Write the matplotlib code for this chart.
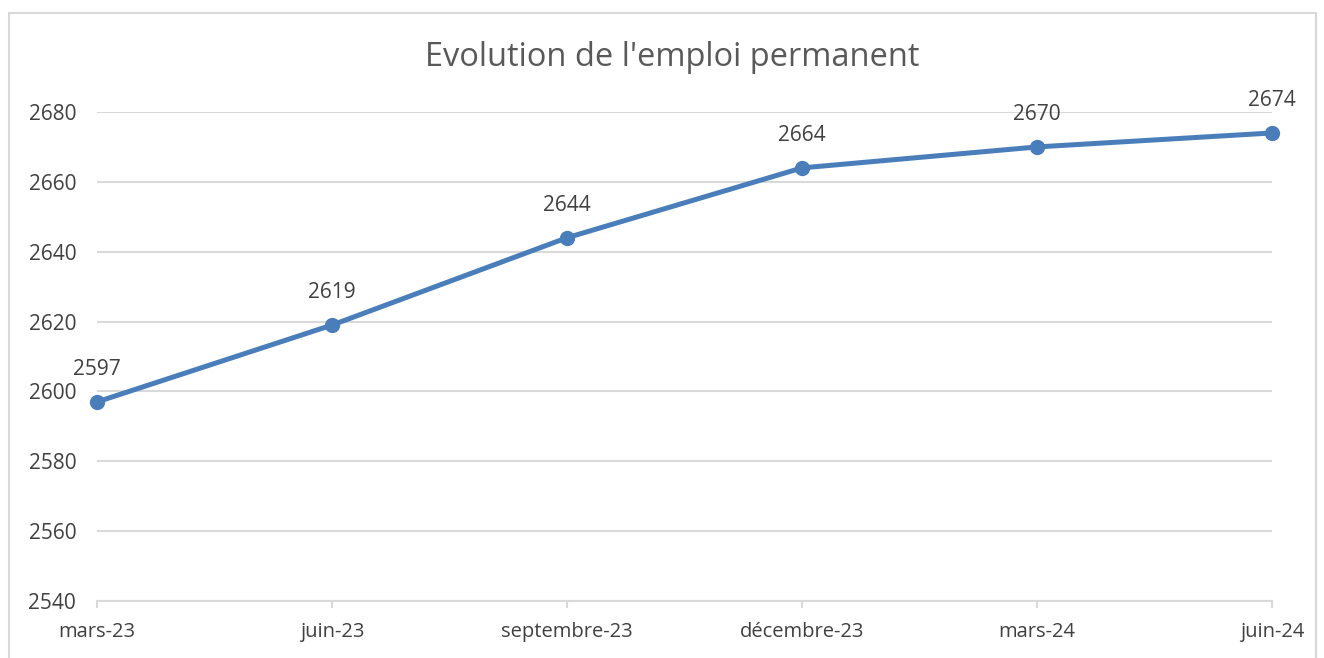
import matplotlib.pyplot as plt
from matplotlib.patches import Rectangle

# data
periods = ['mars-23', 'juin-23', 'septembre-23', 'décembre-23', 'mars-24', 'juin-24']
emploi = [2597, 2619, 2644, 2664, 2670, 2674]
yticks = [2540, 2560, 2580, 2600, 2620, 2640, 2660, 2680]

grey = '#595959'
dark = '#404040'
blue = '#4a7ebb'
grid = '#d9d9d9'

plt.rcParams['font.family'] = ['Open Sans', 'DejaVu Sans']

fig = plt.figure(figsize=(13.24, 6.58), dpi=100)
ax = fig.add_axes([97 / 1324, 1 - 601 / 658, (1272 - 97) / 1324, (601 - 112) / 658])

# chart frame
fig.patches.append(Rectangle((9 / 1324, -0.1), (1316 - 9) / 1324, 1.1 - 13 / 658,
                             transform=fig.transFigure, fill=False,
                             edgecolor=grid, linewidth=1.5))

x = list(range(len(periods)))
ax.plot(x, emploi, color=blue, linewidth=3.6, marker='o', markersize=10,
        clip_on=False, zorder=3)
for xi, v in zip(x, emploi):
    ax.annotate(str(v), (xi, v), xytext=(0, 23.5), textcoords='offset points',
                ha='center', va='center', fontsize=15, color=dark)

ax.set_xlim(0, len(periods) - 1)
ax.set_ylim(2540, 2680)
ax.set_yticks(yticks)
ax.set_xticks(x)
ax.set_xticklabels(periods)
ax.yaxis.grid(True, color=grid, linewidth=1.5)
ax.set_axisbelow(True)

for s in ['top', 'right', 'left']:
    ax.spines[s].set_visible(False)
ax.spines['bottom'].set_color(grid)
ax.spines['bottom'].set_linewidth(1.5)

ax.tick_params(axis='y', length=0, pad=15, labelsize=15, labelcolor=dark)
ax.tick_params(axis='x', length=5, width=1.5, color=grid, pad=10,
               labelsize=14.5, labelcolor=dark)

fig.text(672 / 1324, 1 - 58 / 658, "Evolution de l'emploi permanent",
         ha='center', va='center', fontsize=23.5, color=grey)

fig.savefig('out.png', dpi=100)
